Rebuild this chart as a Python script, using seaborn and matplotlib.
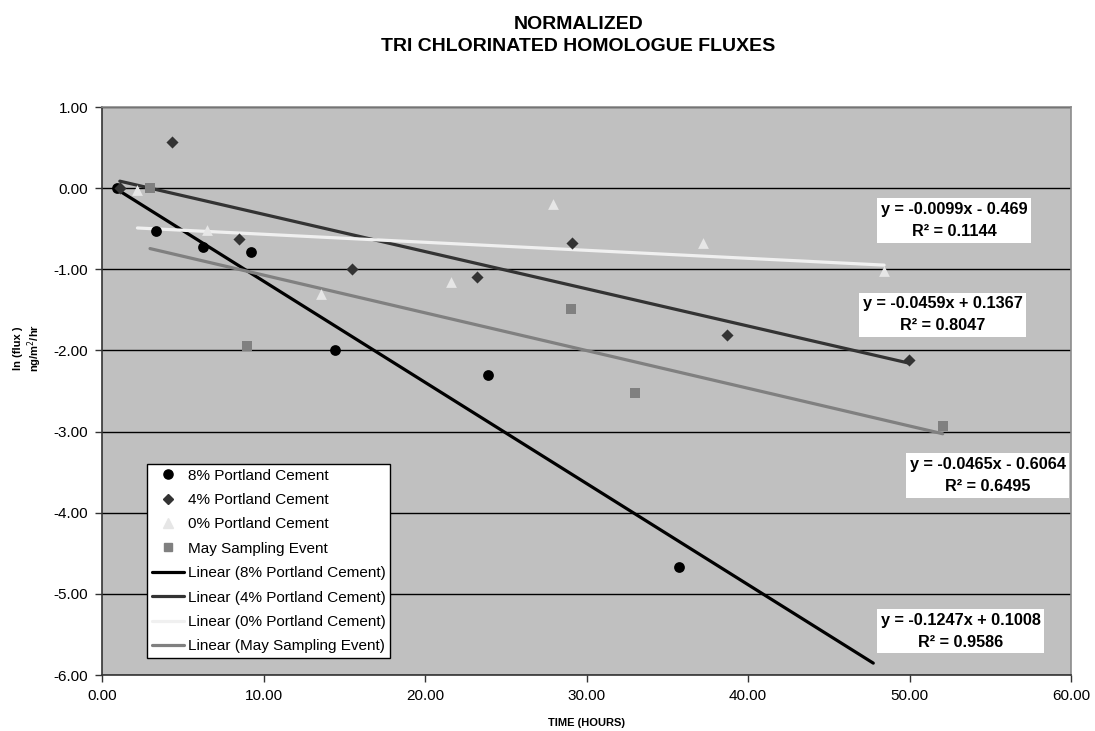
import numpy as np
import pandas as pd
import matplotlib
matplotlib.use("Agg")
import matplotlib.pyplot as plt
from matplotlib.lines import Line2D
import seaborn as sns

# ---- data -------------------------------------------------------------
series_names = ["8% Portland Cement", "4% Portland Cement",
                "0% Portland Cement", "May Sampling Event"]

pc8_hours = [0.91, 3.32, 6.27, 9.23, 14.43, 23.88, 35.75]
pc8_lnflux = [0.00, -0.53, -0.73, -0.79, -1.99, -2.30, -4.67]

pc4_hours = [1.10, 4.35, 8.48, 15.48, 23.24, 29.12, 38.72, 49.95]
pc4_lnflux = [0.00, 0.57, -0.63, -1.00, -1.09, -0.67, -1.81, -2.12]

pc0_hours = [2.19, 6.52, 13.54, 21.59, 27.95, 37.21, 48.42]
pc0_lnflux = [-0.02, -0.52, -1.30, -1.16, -0.20, -0.68, -1.02]

may_hours = [2.97, 8.98, 29.02, 33.02, 52.05]
may_lnflux = [0.00, -1.95, -1.49, -2.52, -2.93]

# linear trendline coefficients (y = slope * x + intercept) and R^2
trend_slope = [-0.1247, -0.0459, -0.0099, -0.0465]
trend_intercept = [0.1008, 0.1367, -0.469, -0.6064]
trend_r2 = [0.9586, 0.8047, 0.1144, 0.6495]
trend_forward = [12.0, 0.0, 0.0, 0.0]   # forward forecast period (hours)

x_ticks = [0, 10, 20, 30, 40, 50, 60]
y_ticks = [1, 0, -1, -2, -3, -4, -5, -6]

# ---- styles -----------------------------------------------------------
marker_colors = ["#000000", "#333333", "#E6E6E6", "#808080"]
line_colors = ["#000000", "#333333", "#F0F0F0", "#808080"]
marker_shapes = ["o", "D", "^", "s"]
marker_sizes = [60, 38, 60, 48]
label_pos = [(53.16, -5.46), (52.04, -1.56), (52.76, -0.40), (54.83, -3.54)]

sns.set_style("white")
plt.rcParams["font.family"] = ["Liberation Sans", "DejaVu Sans"]
plt.rcParams["axes.unicode_minus"] = False
plt.rcParams["text.color"] = "black"
plt.rcParams["axes.labelcolor"] = "black"
plt.rcParams["xtick.color"] = "black"
plt.rcParams["ytick.color"] = "black"

hours = [pc8_hours, pc4_hours, pc0_hours, may_hours]
lnflux = [pc8_lnflux, pc4_lnflux, pc0_lnflux, may_lnflux]
df = pd.concat([pd.DataFrame({"hours": h, "lnflux": v, "series": n})
                for h, v, n in zip(hours, lnflux, series_names)],
               ignore_index=True)

fig = plt.figure(figsize=(10.95, 7.31), dpi=100)
ax = fig.add_axes([0.0932, 0.0766, 0.885, 0.7770])
ax.set_facecolor("#C0C0C0")

# horizontal gridlines
for yv in y_ticks:
    ax.axhline(yv, color="#000000", lw=1.0, zorder=1)

# trendlines
line_handles = []
for i, name in enumerate(series_names):
    x0 = min(hours[i])
    x1 = max(hours[i]) + trend_forward[i]
    xs = np.array([x0, x1])
    ys = trend_slope[i] * xs + trend_intercept[i]
    sns.lineplot(x=xs, y=ys, ax=ax, color=line_colors[i], lw=2.3,
                 zorder=3, legend=False)
    line_handles.append(Line2D([], [], color=line_colors[i], lw=2.3,
                               label=f"Linear ({name})"))

# data points
marker_handles = []
for i, name in enumerate(series_names):
    sub = df[df["series"] == name]
    sns.scatterplot(data=sub, x="hours", y="lnflux", ax=ax,
                    color=marker_colors[i], marker=marker_shapes[i],
                    s=marker_sizes[i], linewidth=0, zorder=4, legend=False)
    marker_handles.append(Line2D([], [], ls="none", marker=marker_shapes[i],
                                 color=marker_colors[i],
                                 markersize=np.sqrt(marker_sizes[i]) * 0.85,
                                 label=name))

# equation labels
for i in range(len(series_names)):
    b = trend_intercept[i]
    sign = "+" if b >= 0 else "-"
    txt = (f"y = {trend_slope[i]:.4f}x {sign} {abs(b):.4g}\n"
           f"R² = {trend_r2[i]:.4f}")
    ax.text(label_pos[i][0], label_pos[i][1], txt, ha="center", va="center",
            multialignment="center", fontsize=11.7, fontweight="bold",
            linespacing=1.6, zorder=6,
            bbox=dict(boxstyle="square,pad=0.22", fc="white", ec="none"))

ax.set_xlim(0, 60)
ax.set_ylim(-6, 1)
ax.set_xticks(x_ticks)
ax.set_yticks(y_ticks)
ax.set_xticklabels([f"{v:.2f}" for v in x_ticks], fontsize=11)
ax.set_yticklabels([f"{v:.2f}" for v in y_ticks], fontsize=11)
ax.tick_params(axis="both", direction="out", length=5, width=1,
               color="#333333", pad=5, left=True, bottom=True)

for side in ["left", "bottom"]:
    ax.spines[side].set_color("#333333")
    ax.spines[side].set_linewidth(1.2)
for side in ["top", "right"]:
    ax.spines[side].set_color("#8C8C8C")
    ax.spines[side].set_linewidth(1.2)

ax.set_ylabel("")
ax.set_xlabel("TIME (HOURS)", fontsize=8, fontweight="bold", labelpad=11)
fig.text(0.026, 1 - 348 / 731, "ln (flux )\nng/m$^2$/hr", rotation=90,
         ha="center", va="center", multialignment="center",
         fontsize=8, fontweight="bold")

fig.text(0.528, 0.978, "NORMALIZED\nTRI CHLORINATED HOMOLOGUE FLUXES",
         ha="center", va="top", fontsize=14, fontweight="bold",
         linespacing=1.38)

leg = ax.legend(handles=marker_handles + line_handles, loc="lower left",
                bbox_to_anchor=(0.0464, 0.030), borderaxespad=0,
                fontsize=11, frameon=True, fancybox=False, framealpha=1,
                edgecolor="#000000", handlelength=2.1, handletextpad=0.25,
                labelspacing=0.68, borderpad=0.3)
leg.get_frame().set_linewidth(1.0)
leg.set_zorder(7)

fig.savefig("out.png", dpi=100)
